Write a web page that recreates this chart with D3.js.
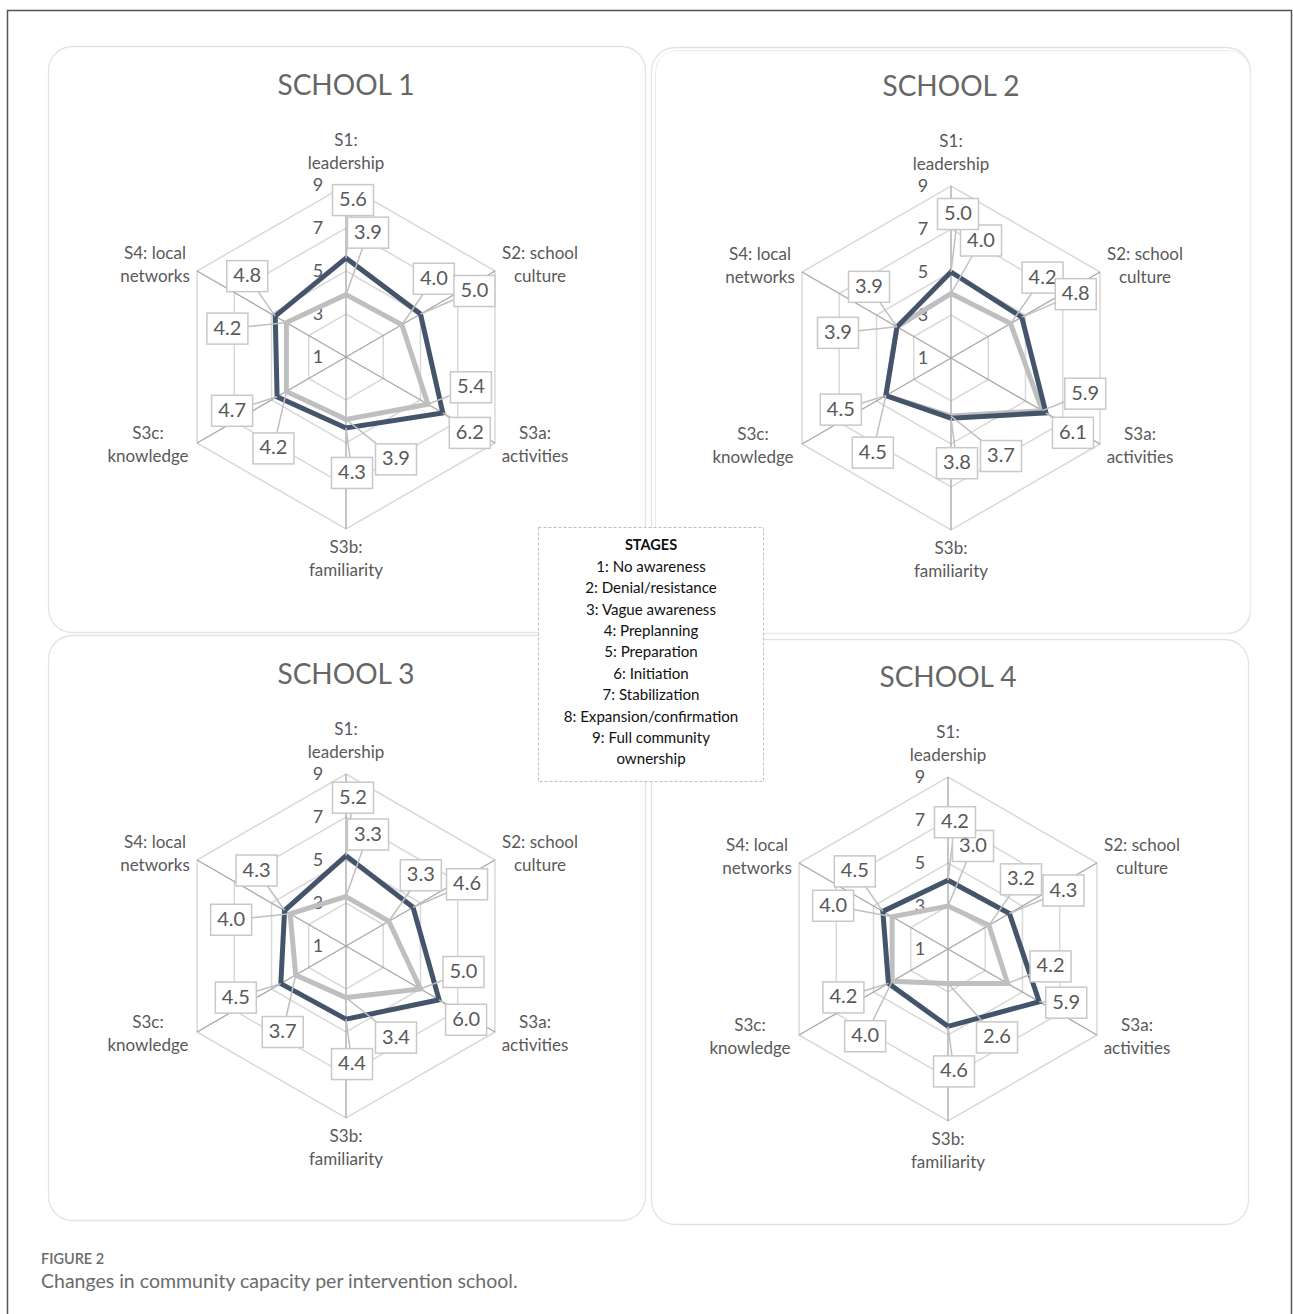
<!DOCTYPE html>
<html>
<head>
<meta charset="utf-8">
<script src="https://cdn.jsdelivr.net/npm/d3@7"></script>
<style>
    body { margin: 0; background: #fff; }
    text { font-family: Lato, "Open Sans", sans-serif; }
</style>
</head>
<body>
<script>
(function(){

    //chart data
    var schools = ["SCHOOL 1", "SCHOOL 2", "SCHOOL 3", "SCHOOL 4"];
    var axes = [["S1:", "leadership"], ["S2: school", "culture"], ["S3a:", "activities"],
                ["S3b:", "familiarity"], ["S3c:", "knowledge"], ["S4: local", "networks"]];
    //light series (first measurement) per school, order S1..S4
    var baseline = [
        [3.9, 4.0, 5.4, 3.9, 4.2, 4.2],
        [4.0, 4.2, 5.9, 3.7, 4.5, 3.9],
        [3.3, 3.3, 5.0, 3.4, 3.7, 4.0],
        [3.0, 3.2, 4.2, 2.6, 4.0, 4.0]
    ];
    //dark series (second measurement)
    var followup = [
        [5.6, 5.0, 6.2, 4.3, 4.7, 4.8],
        [5.0, 4.8, 6.1, 3.8, 4.5, 3.9],
        [5.2, 4.6, 6.0, 4.4, 4.5, 4.3],
        [4.2, 4.3, 5.9, 4.6, 4.2, 4.5]
    ];
    var tickValues = [1, 3, 5, 7, 9];
    var stages = ["1: No awareness", "2: Denial/resistance", "3: Vague awareness", "4: Preplanning",
                  "5: Preparation", "6: Initiation", "7: Stabilization", "8: Expansion/confirmation",
                  "9: Full community", "ownership"];

    //layout of the four panels
    var panels = [
        {x: 48, y: 46, w: 597, h: 586, cx: 346, cy: 357},
        {x: 651, y: 47, w: 599, h: 586, cx: 951, cy: 358},
        {x: 48, y: 635, w: 597, h: 585, cx: 346, cy: 946},
        {x: 651, y: 639, w: 597, h: 585, cx: 948, cy: 949}
    ];
    //label box offsets from the data point (per axis)
    var darkOffsets = [[7, -58], [54, -23], [27, 20], [6, 45], [-45, 14], [-28, -40]];
    var lightOffsets = [[22, -62], [32, -46], [43, -17], [50, 40], [-13, 57], [-59, 6]];
    //hand-moved labels: "school-series-axis"
    var offsetFix = {
        "1-light-0": [30, -53],
        "3-light-0": [25, -60],
        "3-dark-2": [27, 1],
        "3-light-3": [49, 54],
        "3-light-4": [-27, 55],
        "3-light-5": [-59, -11]
    };
    //axis label offsets from the centre
    var axisLabelPos = [[0, -215], [194, -102], [189, 78], [0, 192], [-198, 78], [-191, -102]];

    var width = 1293, height = 1314;
    var grey = "#595959";

    var svg = d3.select("body")
        .append("svg")
        .attr("width", width)
        .attr("height", height);

    //outer figure frame
    svg.append("rect")
        .attr("x", 7.5)
        .attr("y", 10.5)
        .attr("width", 1284)
        .attr("height", 1330)
        .attr("fill", "none")
        .attr("stroke", "#555")
        .attr("stroke-width", 1.5);

    //radial scale
    var rScale = d3.scaleLinear()
        .domain([1, 9])
        .range([0, 172]);

    function angle(i){
        return i * Math.PI / 3;
    };

    function point(cx, cy, i, v){
        var a = angle(i), r = rScale(v);
        return [cx + r * Math.sin(a), cy - r * Math.cos(a)];
    };

    panels.forEach(function(p, k){
        drawPanel(p, k);
    });

    function drawPanel(p, k){
        var g = svg.append("g").attr("class", "panel");

        //panel background
        g.append("rect")
            .attr("x", p.x + 0.5)
            .attr("y", p.y + 0.5)
            .attr("width", p.w)
            .attr("height", p.h)
            .attr("rx", 24)
            .attr("fill", "#fff")
            .attr("stroke", "#e3e3e3")
            .attr("stroke-width", 1.3);
        if (k == 1){
            //second outline seen on the school 2 frame
            g.append("rect")
                .attr("x", p.x + 4.5)
                .attr("y", p.y + 3.5)
                .attr("width", p.w - 4)
                .attr("height", p.h - 3)
                .attr("rx", 22)
                .attr("fill", "none")
                .attr("stroke", "#ebebeb")
                .attr("stroke-width", 1);
        };

        //title
        g.append("text")
            .attr("x", p.cx)
            .attr("y", p.cy - 269)
            .attr("text-anchor", "middle")
            .attr("dominant-baseline", "middle")
            .attr("font-size", 28)
            .attr("fill", "#666")
            .text(schools[k]);

        //grid rings (hexagons)
        var rings = tickValues.slice(1);
        g.selectAll(".ring")
            .data(rings)
            .enter()
            .append("polygon")
            .attr("class", "ring")
            .attr("points", function(v){
                return d3.range(6).map(function(i){ return point(p.cx, p.cy, i, v).join(","); }).join(" ");
            })
            .attr("fill", "none")
            .attr("stroke", "#d9d9d9")
            .attr("stroke-width", 1.5);

        //spokes
        g.selectAll(".spoke")
            .data(d3.range(6))
            .enter()
            .append("line")
            .attr("class", "spoke")
            .attr("x1", p.cx)
            .attr("y1", p.cy)
            .attr("x2", function(i){ return point(p.cx, p.cy, i, 9)[0]; })
            .attr("y2", function(i){ return point(p.cx, p.cy, i, 9)[1]; })
            .attr("stroke", "#a6a6a6")
            .attr("stroke-width", 1.3);

        //tick labels
        g.selectAll(".tick")
            .data(tickValues)
            .enter()
            .append("text")
            .attr("class", "tick")
            .attr("x", p.cx - 28)
            .attr("y", function(v){ return p.cy - rScale(v) + 1; })
            .attr("text-anchor", "middle")
            .attr("dominant-baseline", "middle")
            .attr("font-size", 18)
            .attr("fill", grey)
            .text(function(v){ return v; });

        //axis labels
        axes.forEach(function(lines, i){
            var t = g.append("text")
                .attr("text-anchor", "middle")
                .attr("font-size", 17)
                .attr("fill", grey);
            lines.forEach(function(s, j){
                t.append("tspan")
                    .attr("x", p.cx + axisLabelPos[i][0])
                    .attr("y", p.cy + axisLabelPos[i][1] + j * 23)
                    .attr("dominant-baseline", "middle")
                    .text(s);
            });
        });

        //series lines
        var line = d3.line().curve(d3.curveLinearClosed);
        var series = [
            {name: "light", values: baseline[k], color: "#bfbfbf", offsets: lightOffsets},
            {name: "dark", values: followup[k], color: "#44546a", offsets: darkOffsets}
        ];
        series.forEach(function(s){
            g.append("path")
                .attr("d", line(s.values.map(function(v, i){ return point(p.cx, p.cy, i, v); })))
                .attr("fill", "none")
                .attr("stroke", s.color)
                .attr("stroke-width", 5)
                .attr("stroke-linejoin", "miter");
        });

        //data labels with leader lines
        var boxW = 41, boxH = 31;
        var labels = [];
        series.forEach(function(s){
            s.values.forEach(function(v, i){
                var pt = point(p.cx, p.cy, i, v);
                var off = offsetFix[k + "-" + s.name + "-" + i] || s.offsets[i];
                labels.push({v: v, pt: pt, bx: pt[0] + off[0], by: pt[1] + off[1]});
            });
        });

        labels.forEach(function(d){
            //clip the leader line at the box edge
            var dx = d.pt[0] - d.bx, dy = d.pt[1] - d.by;
            var t = Math.min(Math.abs((boxW / 2) / (dx || 1e-6)), Math.abs((boxH / 2) / (dy || 1e-6)));
            if (t < 1){
                g.append("line")
                    .attr("x1", d.bx + dx * t)
                    .attr("y1", d.by + dy * t)
                    .attr("x2", d.pt[0])
                    .attr("y2", d.pt[1])
                    .attr("stroke", "#bfbfbf")
                    .attr("stroke-width", 1.5);
            };
        });

        labels.forEach(function(d){
            g.append("rect")
                .attr("x", d.bx - boxW / 2)
                .attr("y", d.by - boxH / 2)
                .attr("width", boxW)
                .attr("height", boxH)
                .attr("fill", "#fff")
                .attr("stroke", "#c8c8c8")
                .attr("stroke-width", 1.5);
            g.append("text")
                .attr("x", d.bx)
                .attr("y", d.by + 1)
                .attr("text-anchor", "middle")
                .attr("dominant-baseline", "middle")
                .attr("font-size", 20)
                .attr("fill", grey)
                .text(d3.format(".1f")(d.v));
        });
    };

    //stages legend
    var legend = svg.append("g").attr("class", "legend");
    legend.append("rect")
        .attr("x", 538.5)
        .attr("y", 527.5)
        .attr("width", 225)
        .attr("height", 254)
        .attr("fill", "#fff")
        .attr("stroke", "#bfbfbf")
        .attr("stroke-dasharray", "3,2");
    legend.append("text")
        .attr("x", 651)
        .attr("y", 546)
        .attr("text-anchor", "middle")
        .attr("dominant-baseline", "middle")
        .attr("font-size", 14.5)
        .attr("font-weight", "bold")
        .attr("fill", "#111")
        .text("STAGES");
    legend.selectAll(".stage")
        .data(stages)
        .enter()
        .append("text")
        .attr("class", "stage")
        .attr("x", 651)
        .attr("y", function(d, i){ return 568 + i * 21.4; })
        .attr("text-anchor", "middle")
        .attr("dominant-baseline", "middle")
        .attr("font-size", 15.1)
        .attr("fill", "#111")
        .text(function(d){ return d; });

    //caption
    svg.append("text")
        .attr("x", 41)
        .attr("y", 1264)
        .attr("font-size", 14.5)
        .attr("font-weight", 600)
        .attr("fill", "#6b6b6b")
        .text("FIGURE 2");
    svg.append("text")
        .attr("x", 41)
        .attr("y", 1288)
        .attr("font-size", 19.5)
        .attr("fill", "#6b6b6b")
        .text("Changes in community capacity per intervention school.");

})();
</script>
</body>
</html>
